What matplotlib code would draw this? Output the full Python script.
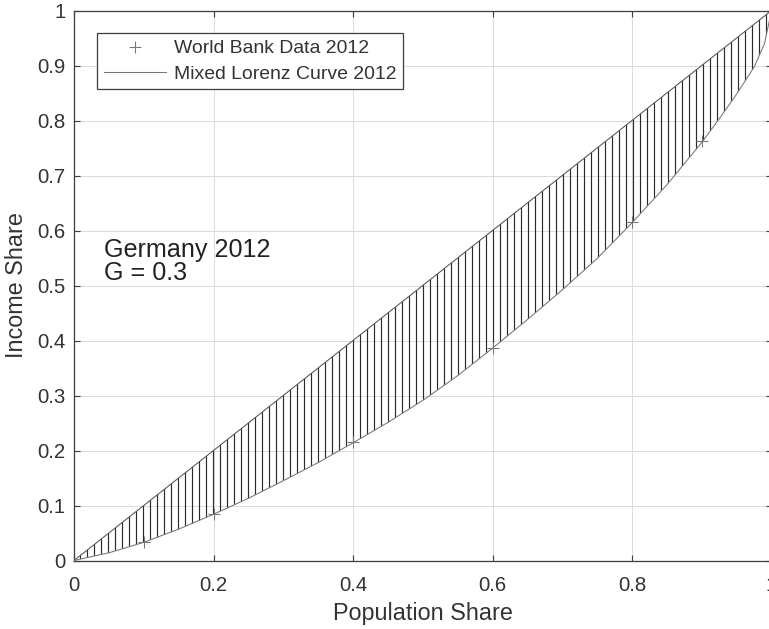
import numpy as np
import matplotlib
matplotlib.use("Agg")
import matplotlib.pyplot as plt

# ---------------- data ----------------
pop_share = [0.0, 0.05, 0.1, 0.15, 0.2, 0.25, 0.3, 0.35, 0.4, 0.45, 0.5, 0.55,
             0.6, 0.65, 0.7, 0.75, 0.8, 0.85, 0.9, 0.925, 0.95, 0.975, 0.99, 1.0]
lorenz = [0.0, 0.014, 0.033, 0.057, 0.084, 0.113, 0.145, 0.178, 0.214, 0.251, 0.291, 0.336,
          0.386, 0.438, 0.492, 0.549, 0.614, 0.683, 0.760, 0.803, 0.848, 0.897, 0.940, 1.0]

wb_pop = [0.1, 0.2, 0.4, 0.6, 0.8, 0.9]
wb_income = [0.033, 0.085, 0.215, 0.386, 0.615, 0.762]

xticks = [0, 0.2, 0.4, 0.6, 0.8, 1]
xtick_labels = ["0", "0.2", "0.4", "0.6", "0.8", "1"]
yticks = [0, 0.1, 0.2, 0.3, 0.4, 0.5, 0.6, 0.7, 0.8, 0.9, 1]
ytick_labels = ["0", "0.1", "0.2", "0.3", "0.4", "0.5", "0.6", "0.7", "0.8", "0.9", "1"]

country_note = "Germany 2012\nG = 0.3"

# ---------------- style ----------------
DPI = 84
plt.rcParams['font.family'] = ['Liberation Sans', 'DejaVu Sans']
plt.rcParams['hatch.linewidth'] = 1.0
txt_col = '#333333'

fig = plt.figure(figsize=(769 / DPI, 629 / DPI), dpi=DPI)
ax = fig.add_axes([74 / 769, (629 - 560.5) / 629, 697.5 / 769, 550 / 629])

# hatched area between equality line and lorenz curve
ax.fill_between(pop_share, lorenz, pop_share, facecolor='none',
                edgecolor='#2a2a2a', hatch='||', linewidth=0, zorder=2)
ax.plot(pop_share, pop_share, color='#555555', lw=0.9, zorder=3)
ax.plot(pop_share, lorenz, color='#777777', lw=0.9, zorder=3,
        label='Mixed Lorenz Curve 2012')
ax.plot(wb_pop, wb_income, ls='none', marker='+', ms=10, mew=0.9,
        color='#777777', zorder=4, label='World Bank Data 2012')

ax.set_xlim(0, 1)
ax.set_ylim(0, 1)
ax.set_xticks(xticks)
ax.set_xticklabels(xtick_labels)
ax.set_yticks(yticks)
ax.set_yticklabels(ytick_labels)

ax.grid(True, color='#dcdcdc', lw=0.9, zorder=0)
ax.set_axisbelow(True)
for sp in ax.spines.values():
    sp.set_color('#404040')
    sp.set_linewidth(1.1)
ax.tick_params(direction='in', length=5, width=1.0, color='#404040',
               top=True, right=True, labelsize=17.5, labelcolor=txt_col)
ax.tick_params(axis='x', pad=13)
ax.tick_params(axis='y', pad=7.5)

ax.set_xlabel('Population Share', fontsize=20, color=txt_col, labelpad=6)
ax.set_ylabel('Income Share', fontsize=20, color=txt_col, labelpad=8)

ax.text(0.043, 0.586, country_note, fontsize=21.5, color='#222222',
        va='top', ha='left', linespacing=0.95)

handles, labels = ax.get_legend_handles_labels()
leg = ax.legend(handles[::-1], labels[::-1], loc='upper left',
                bbox_to_anchor=(0.033, 0.959), borderaxespad=0,
                fontsize=16.6, fancybox=False, framealpha=1,
                edgecolor='#404040', handlelength=3.2, handletextpad=0.4,
                labelspacing=0.4, borderpad=0.35)
leg.get_frame().set_linewidth(1.1)
for t in leg.get_texts():
    t.set_color(txt_col)

fig.savefig('out.png', dpi=DPI)
